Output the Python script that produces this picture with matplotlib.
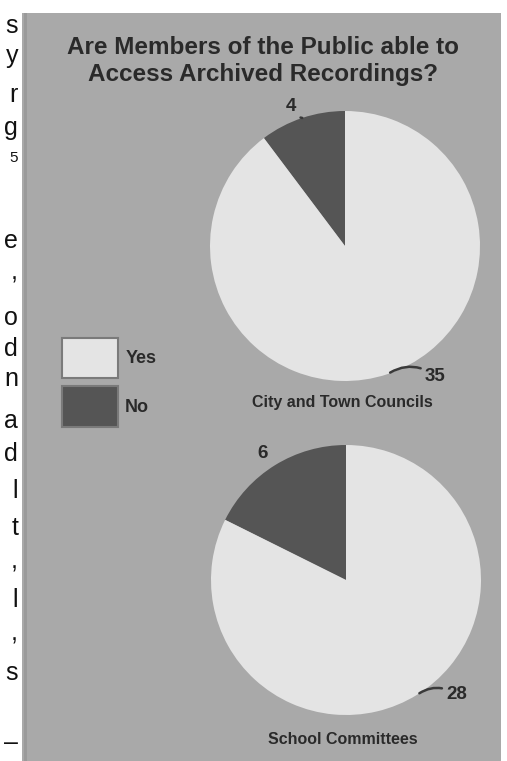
import numpy as np
import matplotlib.pyplot as plt
from matplotlib.patches import Rectangle, Patch

# Survey answers per body
groups = ["City and Town Councils", "School Committees"]
answers = ["Yes", "No"]
yes_counts = [35, 28]
no_counts = [4, 6]

# Line endings of the neighbouring page text (letter, baseline in px)
margin_letters = ["s", "y", "r", "g", "5", "e", ",", "o", "d", "n", "a", "d",
                  "l", "t", ",", "l", ",", "s", "–"]
margin_baselines = [33, 63, 102, 135, 162, 248, 280, 325, 356, 386, 428, 461,
                    498, 535, 569, 607, 641, 680, 750]

W, H = 507, 761
BG = "#a9a9a9"
LIGHT = "#e4e4e4"
DARK = "#555555"
INK = "#2a2a2a"
FONT = "Liberation Sans"

plt.rcParams["font.family"] = [FONT, "DejaVu Sans"]


def fx(px):
    return px / W


def fy(py):
    return 1 - py / H


fig = plt.figure(figsize=(W / 100, H / 100), dpi=100)
fig.patch.set_facecolor("white")

# gray chart panel
fig.add_artist(Rectangle((fx(22), 0), fx(501) - fx(22), fy(13),
                         transform=fig.transFigure, facecolor=BG,
                         edgecolor="none", zorder=0))
fig.add_artist(Rectangle((fx(24), 0), fx(3), fy(13),
                         transform=fig.transFigure, facecolor="#9a9a9a",
                         edgecolor="none", zorder=0))

# page text ending in the left margin
for ch, base in zip(margin_letters, margin_baselines):
    size = 11 if ch == "5" else 18
    fig.text(fx(18), fy(base), ch, ha="right", va="baseline",
             fontsize=size, color="#111111", family=FONT)

fig.text(fx(263), fy(61),
         "Are Members of the Public able to\nAccess Archived Recordings?",
         ha="center", va="center", fontsize=17.5, fontweight="bold",
         color=INK, linespacing=1.2)

# pie centres (px), radius 135 px
centres = [(345, 246), (346, 580)]
R = 135
caption_y = [403, 740]
# label offsets (px) for [No, Yes] and whether a leader line is drawn
label_offsets = [[(-11, 11, "center", True), (37, -2, "left", True)],
                 [(-12, 12, "center", False), (29, 0, "left", True)]]

for i, (cx, cy) in enumerate(centres):
    ax = fig.add_axes([fx(cx - R), fy(cy + R), 2 * R / W, 2 * R / H])
    counts = [no_counts[i], yes_counts[i]]
    wedges, _ = ax.pie(counts, colors=[DARK, LIGHT], startangle=90,
                       counterclock=True, radius=1,
                       wedgeprops=dict(linewidth=0))
    ax.set_xlim(-1, 1)
    ax.set_ylim(-1, 1)
    ax.set_aspect("equal")
    ax.axis("off")

    for w, n, (dx, dy, ha, leader) in zip(wedges, counts, label_offsets[i]):
        ang = np.deg2rad((w.theta1 + w.theta2) / 2)
        xy = (np.cos(ang), np.sin(ang))
        arrow = None
        if leader:
            arrow = dict(arrowstyle="-", color="#3a3a3a", lw=1.8,
                         shrinkA=1, shrinkB=2,
                         connectionstyle="arc3,rad=0.35")
        ax.annotate(str(n), xy=xy, xytext=(dx, dy),
                    textcoords="offset pixels", ha=ha, va="center",
                    fontsize=13.5, fontweight="bold", color=INK,
                    arrowprops=arrow, annotation_clip=False)

    fig.text(fx(cx - 3), fy(caption_y[i]), groups[i], ha="center",
             va="center", fontsize=11.5, fontweight="bold", color=INK)

handles = [Patch(facecolor=c, edgecolor="#7a7a7a", linewidth=1.5)
           for c in [LIGHT, DARK]]
fig.legend(handles, answers, loc="upper left",
           bbox_to_anchor=(fx(62), fy(338)), bbox_transform=fig.transFigure,
           frameon=False, prop=dict(weight="bold", size=13),
           handlelength=3.1, handleheight=3.05, labelspacing=0.45,
           handletextpad=0.4, borderpad=0, borderaxespad=0,
           labelcolor=INK)

fig.savefig("out.png", dpi=100, facecolor=fig.get_facecolor())
